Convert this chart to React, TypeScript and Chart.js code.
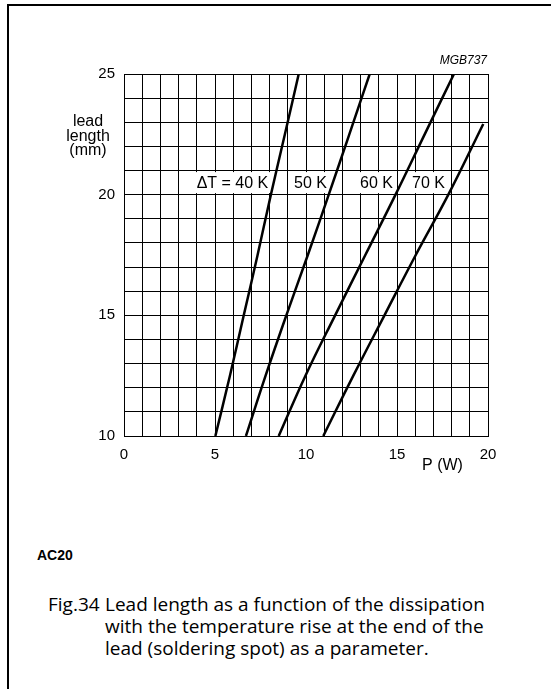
import React, { useEffect, useRef } from "react";
import { Chart, registerables } from "chart.js";

Chart.register(...registerables);

// Lead length (mm) sample levels for each curve, and power P (W)
const lengthMm = [10, 12.5, 15, 17.5, 20, 22.5, 25];
const power40K = [5.02, 5.82, 6.58, 7.34, 8.07, 8.84, 9.6];
const power50K = [6.7, 7.78, 8.92, 10.1, 11.25, 12.38, 13.5];
const power60K = [8.5, 9.97, 11.6, 13.26, 14.92, 16.52, 18.13];
const lengthMm70K = [10, 12.5, 15, 17.5, 20, 22.93];
const power70K = [10.95, 12.6, 14.31, 16.03, 17.82, 19.74];

const curveLabels = ["\u0394T = 40 K", "50 K", "60 K", "70 K"];
const curveLabelP = [5.96, 10.25, 13.87, 16.73];
const curveLabelLength = 20.5;

const xTickLabels = [0, 5, 10, 15, 20];
const yTickLabels = [10, 15, 20, 25];

const SANS = '"Liberation Sans", Arial, Helvetica, sans-serif';

const toPoints = (xs: number[], ys: number[]) => xs.map((x, i) => ({ x, y: ys[i] }));

const curveLabelPlugin = {
  id: "curveLabels",
  beforeDatasetsDraw(chart: any) {
    const { ctx, scales } = chart;
    const xs = scales.x;
    const ys = scales.y;
    ctx.save();
    ctx.font = `16px ${SANS}`;
    ctx.textAlign = "center";
    ctx.textBaseline = "middle";
    curveLabels.forEach((t, i) => {
      const cx = xs.getPixelForValue(curveLabelP[i]);
      const cy = ys.getPixelForValue(curveLabelLength);
      const w = ctx.measureText(t).width;
      ctx.fillStyle = "#fff";
      ctx.fillRect(cx - w / 2 - 3, cy - 10.5, w + 6, 21);
      ctx.fillStyle = "#000";
      ctx.fillText(t, cx, cy + 1);
    });
    ctx.restore();
  },
};

const titlePlugin = {
  id: "titles",
  afterDraw(chart: any) {
    const { ctx, chartArea, scales } = chart;
    ctx.save();
    ctx.fillStyle = "#000";
    ctx.textBaseline = "middle";
    ctx.font = `16px ${SANS}`;
    ctx.textAlign = "center";
    const yx = chartArea.left - 36;
    ["lead", "length", "(mm)"].forEach((t, i) => {
      ctx.fillText(t, yx, chartArea.top + 48 + i * 14.5);
    });
    ctx.fillText("P (W)", scales.x.getPixelForValue(17.5), chartArea.bottom + 30);
    ctx.font = `italic 12px ${SANS}`;
    ctx.textAlign = "right";
    ctx.fillText("MGB737", chartArea.right - 1, chartArea.top - 13);
    ctx.restore();
  },
};

export default function App() {
  const ref = useRef<HTMLCanvasElement>(null);

  useEffect(() => {
    const lineStyle = {
      borderColor: "#000",
      backgroundColor: "#000",
      borderWidth: 2.5,
      pointRadius: 0,
      tension: 0.4,
      fill: false,
    };
    const chart = new Chart(ref.current as HTMLCanvasElement, {
      type: "line",
      data: {
        datasets: [
          { label: "40 K", data: toPoints(power40K, lengthMm), ...lineStyle },
          { label: "50 K", data: toPoints(power50K, lengthMm), ...lineStyle },
          { label: "60 K", data: toPoints(power60K, lengthMm), ...lineStyle },
          { label: "70 K", data: toPoints(power70K, lengthMm70K), ...lineStyle },
        ],
      },
      options: {
        responsive: false,
        animation: false,
        devicePixelRatio: 1,
        layout: { padding: { left: 0, top: 74, right: 63, bottom: 0 } },
        plugins: {
          legend: { display: false },
          tooltip: { enabled: false },
        },
        scales: {
          x: {
            type: "linear",
            min: 0,
            max: 20,
            afterFit: (s: any) => {
              s.height = 44;
            },
            grid: { color: "#000", lineWidth: 1, drawTicks: false },
            border: { color: "#000", width: 1 },
            ticks: {
              stepSize: 1,
              autoSkip: false,
              maxTicksLimit: 100,
              maxRotation: 0,
              padding: 10,
              color: "#000",
              font: { family: SANS, size: 15 },
              callback: (v: any) => (xTickLabels.includes(Number(v)) ? String(v) : ""),
            },
          },
          y: {
            type: "linear",
            min: 10,
            max: 25,
            afterFit: (s: any) => {
              s.width = 124;
            },
            grid: { color: "#000", lineWidth: 1, drawTicks: false },
            border: { color: "#000", width: 1 },
            ticks: {
              stepSize: 1,
              autoSkip: false,
              maxTicksLimit: 100,
              padding: 9,
              color: "#000",
              font: { family: SANS, size: 15 },
              callback: (v: any) => (yTickLabels.includes(Number(v)) ? String(v) : ""),
            },
          },
        },
      },
      plugins: [curveLabelPlugin, titlePlugin],
    } as any);
    return () => chart.destroy();
  }, []);

  const captionFont = '19px "Open Sans", "Noto Sans", sans-serif';

  return (
    <div
      style={{
        position: "fixed",
        left: 0,
        top: 0,
        width: 551,
        height: 689,
        overflow: "hidden",
        background: "#fff",
      }}
    >
      <div
        style={{
          position: "absolute",
          left: 7,
          top: 4,
          width: 600,
          height: 720,
          borderLeft: "2px solid #000",
          borderTop: "2px solid #000",
        }}
      />
      <canvas
        ref={ref}
        width={551}
        height={480}
        style={{ position: "absolute", left: 0, top: 0, width: 551, height: 480 }}
      />
      <div
        style={{
          position: "absolute",
          left: 37,
          top: 547,
          font: `bold 14px ${SANS}`,
          lineHeight: "16px",
          color: "#000",
        }}
      >
        AC20
      </div>
      <div
        style={{
          position: "absolute",
          left: 48,
          top: 593,
          font: captionFont,
          lineHeight: "22px",
          color: "#000",
          whiteSpace: "nowrap",
        }}
      >
        Fig.34
      </div>
      <div
        style={{
          position: "absolute",
          left: 105,
          top: 593,
          font: captionFont,
          lineHeight: "22px",
          color: "#000",
          whiteSpace: "nowrap",
        }}
      >
        Lead length as a function of the dissipation
        <br />
        with the temperature rise at the end of the
        <br />
        lead (soldering spot) as a parameter.
      </div>
    </div>
  );
}
